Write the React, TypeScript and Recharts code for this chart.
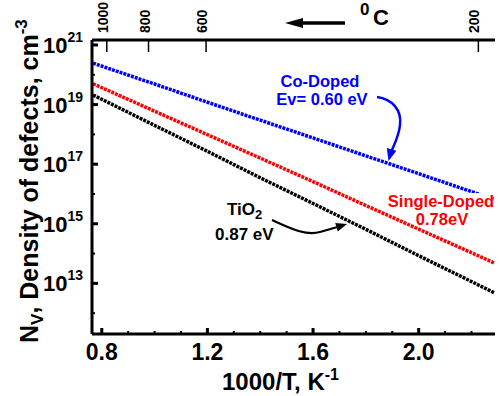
import React from 'react';
import { LineChart, Line, XAxis, YAxis } from 'recharts';

// 1000/T (K^-1)
const xValues = [0.767, 1.0, 1.2, 1.4, 1.6, 1.8, 2.0, 2.2, 2.285];
// Density of defects (cm^-3)
const coDoped = [2.45e20, 4.9e19, 1.2e19, 3.0e18, 7.6e17, 1.9e17, 4.8e16, 1.2e16, 6.6e15];
const singleDoped = [5.0e19, 6.0e18, 9.8e17, 1.6e17, 2.6e16, 4.1e15, 6.6e14, 1.07e14, 4.9e13];
const tio2 = [2.1e19, 2.0e18, 2.7e17, 3.5e16, 4.8e15, 6.5e14, 8.5e13, 1.15e13, 4.9e12];

const xTicks = [0.8, 0.9, 1.0, 1.1, 1.2, 1.3, 1.4, 1.5, 1.6, 1.7, 1.8, 1.9, 2.0, 2.1, 2.2];
const xMajorTicks = [0.8, 1.2, 1.6, 2.0];
const xTickLabels = ['0.8', '1.2', '1.6', '2.0'];
const yTicks = [1e12, 1e13, 1e14, 1e15, 1e16, 1e17, 1e18, 1e19, 1e20, 1e21];
const topTickPositions = [0.819, 0.977, 1.195, 2.226];
const topTickLabels = ['1000', '800', '600', '200'];

const data = xValues.map((x, i) => ({
  x,
  co: coDoped[i],
  single: singleDoped[i],
  tio2: tio2[i],
}));

const FONT = 'Liberation Sans, Arial, Helvetica, sans-serif';

const BottomTick = (props: any) => {
  const { x, y, payload } = props;
  const v = payload.value;
  const idx = xMajorTicks.findIndex((m) => Math.abs(m - v) < 1e-6);
  const major = idx >= 0;
  return (
    <g>
      <line x1={x} y1={y} x2={x} y2={y - (major ? 6 : 3)} stroke="#000" strokeWidth={major ? 3 : 2} />
      {major && (
        <text x={x} y={y + 26} textAnchor="middle" fontFamily={FONT} fontWeight="bold" fontSize={23} fill="#000">
          {xTickLabels[idx]}
        </text>
      )}
    </g>
  );
};

const TopTick = (props: any) => {
  const { x, y, payload } = props;
  const idx = topTickPositions.findIndex((m) => Math.abs(m - payload.value) < 1e-6);
  return (
    <g>
      <line x1={x} y1={y} x2={x} y2={y + 12} stroke="#000" strokeWidth={1.5} />
      <text
        transform={`translate(${x + 1},${y - 7}) rotate(-90)`}
        textAnchor="start"
        fontFamily={FONT}
        fontWeight="bold"
        fontSize={14}
        fill="#000"
      >
        {idx >= 0 ? topTickLabels[idx] : ''}
      </text>
    </g>
  );
};

const LeftTick = (props: any) => {
  const { x, y, payload } = props;
  const exp = Math.round(Math.log10(payload.value));
  const major = exp % 2 === 1;
  return (
    <g>
      <line x1={x} y1={y} x2={x + (major ? 6 : 3)} y2={y} stroke="#000" strokeWidth={major ? 3 : 2} />
      {major && (
        <text x={x - 9} y={y + 8} textAnchor="end" fontFamily={FONT} fontWeight="bold" fontSize={22} fill="#000">
          10
          <tspan dy={-11} fontSize={14}>
            {String(exp)}
          </tspan>
        </text>
      )}
    </g>
  );
};

const RightTick = (props: any) => {
  const { x, y } = props;
  return <line x1={x} y1={y} x2={x - 5} y2={y} stroke="#000" strokeWidth={2.5} />;
};

const Y_DOMAIN: [number, number] = [2.0e11, 1.47e21];
const X_DOMAIN: [number, number] = [0.763, 2.289];

export default function App() {
  return (
    <div style={{ position: 'absolute', left: 0, top: 0, width: 500, height: 396, background: '#fff' }}>
      <LineChart width={500} height={396} data={data} margin={{ top: 0, right: 5, bottom: 0, left: 0 }}>
        <XAxis
          xAxisId="bottom"
          dataKey="x"
          type="number"
          domain={X_DOMAIN}
          allowDataOverflow
          ticks={xTicks}
          interval={0}
          orientation="bottom"
          height={62}
          tickSize={0}
          tickMargin={0}
          tickLine={false}
          axisLine={{ stroke: '#000', strokeWidth: 3 }}
          tick={BottomTick}
        />
        <XAxis
          xAxisId="top"
          dataKey="x"
          type="number"
          domain={X_DOMAIN}
          allowDataOverflow
          ticks={topTickPositions}
          interval={0}
          orientation="top"
          height={40}
          tickSize={0}
          tickMargin={0}
          tickLine={false}
          axisLine={{ stroke: '#000', strokeWidth: 3 }}
          tick={TopTick}
        />
        <YAxis
          yAxisId="left"
          type="number"
          scale="log"
          domain={Y_DOMAIN}
          allowDataOverflow
          ticks={yTicks}
          interval={0}
          width={92}
          tickSize={0}
          tickMargin={0}
          tickLine={false}
          axisLine={{ stroke: '#000', strokeWidth: 3 }}
          tick={LeftTick}
        />
        <YAxis
          yAxisId="right"
          orientation="right"
          type="number"
          scale="log"
          domain={Y_DOMAIN}
          allowDataOverflow
          ticks={yTicks}
          interval={0}
          width={0}
          tickSize={0}
          tickMargin={0}
          tickLine={false}
          axisLine={{ stroke: '#000', strokeWidth: 3 }}
          tick={RightTick}
        />
        <Line
          xAxisId="bottom"
          yAxisId="left"
          type="linear"
          dataKey="tio2"
          stroke="#000000"
          strokeWidth={3.5}
          strokeDasharray="3 1"
          dot={false}
          isAnimationActive={false}
        />
        <Line
          xAxisId="bottom"
          yAxisId="left"
          type="linear"
          dataKey="single"
          stroke="#ff0000"
          strokeWidth={3.5}
          strokeDasharray="3 1"
          dot={false}
          isAnimationActive={false}
        />
        <Line
          xAxisId="bottom"
          yAxisId="left"
          type="linear"
          dataKey="co"
          stroke="#0000ff"
          strokeWidth={3.5}
          strokeDasharray="3 1"
          dot={false}
          isAnimationActive={false}
        />
      </LineChart>
      <svg
        width={500}
        height={396}
        style={{ position: 'absolute', left: 0, top: 0, pointerEvents: 'none' }}
        fontFamily={FONT}
        fontWeight="bold"
      >
        {/* Y axis title */}
        <text transform="translate(38,343) rotate(-90)" fontSize={25} fill="#000">
          N
          <tspan dy={5} fontSize={17}>V</tspan>
          <tspan dy={-5}>, Density of defects, cm</tspan>
          <tspan dy={-11} fontSize={17}>-3</tspan>
        </text>
        {/* X axis title */}
        <text x={222} y={390} fontSize={24} fill="#000">
          1000/T, K
          <tspan dy={-10} fontSize={16}>-1</tspan>
        </text>
        {/* top axis title */}
        <text x={360} y={15} fontSize={17} fill="#000">0</text>
        <text x={373} y={25} fontSize={22} fill="#000">C</text>
        <line x1={345} y1={23} x2={300} y2={23} stroke="#000" strokeWidth={3.3} />
        <polygon points="285,23 303,18 303,28" fill="#000" />
        {/* Co-Doped annotation */}
        <text x={320} y={87} textAnchor="middle" fontSize={16.5} fill="#0000ff">Co-Doped</text>
        <text x={322} y={105} textAnchor="middle" fontSize={16.5} fill="#0000ff">Ev= 0.60 eV</text>
        <path d="M377,97 C392,99 402,110 400,125 C399,135 395,143 392,150" fill="none" stroke="#0000ff" strokeWidth={2.5} />
        <polygon points="388.5,161 396.4,150.7 386.8,148.1" fill="#0000ff" />
        {/* Single-Doped annotation */}
        <rect x={386} y={193} width={107} height={16} fill="#fff" />
        <text x={441} y={207} textAnchor="middle" fontSize={16.5} fill="#ff0000">Single-Doped</text>
        <text x={442} y={225} textAnchor="middle" fontSize={16.5} fill="#ff0000">0.78eV</text>
        {/* TiO2 annotation */}
        <text x={227} y={215} fontSize={17} fill="#000">
          TiO
          <tspan dy={4} fontSize={13}>2</tspan>
        </text>
        <text x={215} y={240} fontSize={17} fill="#000">0.87 eV</text>
        <path d="M272,220 C290,228 305,236 320,232 C328,230 333,228 338,227" fill="none" stroke="#000" strokeWidth={2.2} />
        <polygon points="347,224 337.8,231.5 335.2,222.9" fill="#000" />
      </svg>
    </div>
  );
}
